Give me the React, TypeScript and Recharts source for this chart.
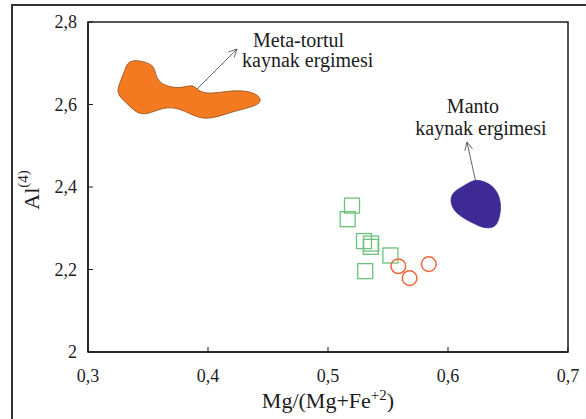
import { ScatterChart, Scatter, XAxis, YAxis, ReferenceArea, ReferenceLine, ReferenceDot, Label } from 'recharts';

// biotite samples (squares) and hornblende-ish samples (circles)
const squares = [
  { x: 0.52, y: 2.355 },
  { x: 0.5164, y: 2.322 },
  { x: 0.53, y: 2.269 },
  { x: 0.536, y: 2.263 },
  { x: 0.5356, y: 2.255 },
  { x: 0.552, y: 2.234 },
  { x: 0.531, y: 2.196 },
];

const circles = [
  { x: 0.5586, y: 2.208 },
  { x: 0.568, y: 2.179 },
  { x: 0.584, y: 2.213 },
];

// outline of the meta-sedimentary source melt field
const metaField = [
  { x: 0.3308, y: 2.6836 }, { x: 0.3333, y: 2.7055 }, { x: 0.3425, y: 2.7079 },
  { x: 0.355, y: 2.6958 }, { x: 0.3558, y: 2.6764 }, { x: 0.36, y: 2.6473 },
  { x: 0.3767, y: 2.6376 }, { x: 0.3875, y: 2.6497 }, { x: 0.3908, y: 2.6352 },
  { x: 0.3992, y: 2.6255 }, { x: 0.4117, y: 2.6303 }, { x: 0.4267, y: 2.6352 },
  { x: 0.44, y: 2.6279 }, { x: 0.445, y: 2.6109 }, { x: 0.4408, y: 2.5964 },
  { x: 0.4217, y: 2.5842 }, { x: 0.4033, y: 2.5648 }, { x: 0.3908, y: 2.5673 },
  { x: 0.3767, y: 2.5915 }, { x: 0.3625, y: 2.5939 }, { x: 0.3492, y: 2.5745 },
  { x: 0.34, y: 2.5794 }, { x: 0.3325, y: 2.6036 }, { x: 0.3233, y: 2.6255 },
  { x: 0.3267, y: 2.6545 },
];

// outline of the mantle source melt field
const mantleField = [
  { x: 0.625, y: 2.4194 }, { x: 0.6375, y: 2.4048 }, { x: 0.6433, y: 2.3758 },
  { x: 0.6442, y: 2.3442 }, { x: 0.6417, y: 2.3127 }, { x: 0.6375, y: 2.3006 },
  { x: 0.6292, y: 2.3006 }, { x: 0.6208, y: 2.3127 }, { x: 0.6125, y: 2.3248 },
  { x: 0.6042, y: 2.3442 }, { x: 0.6017, y: 2.3685 }, { x: 0.6042, y: 2.3879 },
  { x: 0.6117, y: 2.4 }, { x: 0.6183, y: 2.4121 },
];

const xTicks = [0.3, 0.4, 0.5, 0.6, 0.7];
const yTicks = [2, 2.2, 2.4, 2.6, 2.8];

const metaArrow = [{ x: 0.3833, y: 2.6158 }, { x: 0.4242, y: 2.7345 }];
const mantleArrow = [{ x: 0.625, y: 2.3879 }, { x: 0.6158, y: 2.5091 }];

const FONT = '"Liberation Serif", "Times New Roman", serif';
const INK = '#1c1c1c';

const fmt = (v: number) => String(+v.toFixed(1)).replace('.', ',');

const Square = (p: any) => (
  <rect x={p.cx - 7.5} y={p.cy - 7.5} width={15} height={15} fill="none" stroke="#6cc27c" strokeWidth={1.3} />
);

const Ring = (p: any) => (
  <circle cx={p.cx} cy={p.cy} r={7.3} fill="none" stroke="#ee6638" strokeWidth={1.5} />
);

const Hidden = () => <g />;

const Arrow = (p: any) => {
  const { x1, y1, x2, y2 } = p;
  const a = Math.atan2(y2 - y1, x2 - x1);
  const len = 9;
  const spread = 0.45;
  const ax = x2 - len * Math.cos(a - spread);
  const ay = y2 - len * Math.sin(a - spread);
  const bx = x2 - len * Math.cos(a + spread);
  const by = y2 - len * Math.sin(a + spread);
  return (
    <g stroke="#555" strokeWidth={0.9} fill="none">
      <line x1={x1} y1={y1} x2={x2} y2={y2} />
      <polyline points={`${ax},${ay} ${x2},${y2} ${bx},${by}`} />
    </g>
  );
};

const metaText = (p: any) => (
  <text x={p.cx} y={p.cy} fontFamily={FONT} fontSize={20} fill={INK}>
    <tspan x={p.cx}>Meta-tortul</tspan>
    <tspan x={p.cx - 11} dy={20}>kaynak ergimesi</tspan>
  </text>
);

const mantleText = (p: any) => (
  <text x={p.cx} y={p.cy} fontFamily={FONT} fontSize={20} fill={INK} textAnchor="middle">
    <tspan x={p.cx}>Manto</tspan>
    <tspan x={p.cx + 8} dy={22}>kaynak ergimesi</tspan>
  </text>
);

const XTitle = (p: any) => {
  const vb = p.viewBox;
  const cx = vb.x + vb.width / 2;
  return (
    <text x={cx} y={408} textAnchor="middle" fontFamily={FONT} fontSize={22} fill={INK}>
      Mg/(Mg+Fe
      <tspan dy={-8} fontSize={15}>+2</tspan>
      <tspan dy={8}>)</tspan>
    </text>
  );
};

const YTitle = () => (
  <text x={31} y={190} transform="rotate(-90, 31, 190)" textAnchor="middle" dominantBaseline="central" fontFamily={FONT} fontSize={22} fill={INK}>
    Al
    <tspan dy={-8} fontSize={15}>(4)</tspan>
  </text>
);

export default function App() {
  return (
    <div style={{ position: 'absolute', left: 0, top: 0, width: 586, height: 419, overflow: 'hidden', background: '#fff' }}>
      <div style={{ position: 'absolute', left: 11, top: 4, width: 620, height: 480, borderTop: '2px solid #333', borderLeft: '2px solid #333' }} />
      <div style={{ position: 'absolute', left: 0, top: 0 }}>
        <ScatterChart width={586} height={419} margin={{ top: 22, right: 18, bottom: 7, left: 28 }}>
          <XAxis
            type="number"
            dataKey="x"
            domain={[0.3, 0.7]}
            ticks={xTicks}
            tickFormatter={fmt}
            height={60}
            tickSize={-5}
            tickMargin={22}
            axisLine={{ stroke: INK, strokeWidth: 1.5 }}
            tickLine={{ stroke: INK }}
            tick={{ fill: INK, fontFamily: FONT, fontSize: 18 }}
            allowDataOverflow
          >
            <Label content={XTitle} />
          </XAxis>
          <YAxis
            type="number"
            dataKey="y"
            domain={[2, 2.8]}
            ticks={yTicks}
            tickFormatter={fmt}
            width={60}
            tickSize={-5}
            tickMargin={16}
            axisLine={{ stroke: INK, strokeWidth: 1.5 }}
            tickLine={{ stroke: INK }}
            tick={{ fill: INK, fontFamily: FONT, fontSize: 18 }}
            allowDataOverflow
          >
            <Label content={YTitle} />
          </YAxis>
          <ReferenceArea x1={0.3} x2={0.7} y1={2} y2={2.8} fill="none" stroke={INK} strokeWidth={1.5} fillOpacity={0} />
          <Scatter
            data={metaField}
            shape={Hidden}
            line={{ fill: '#f47a22', stroke: '#8c4a1c', strokeWidth: 0.8 }}
            lineType="joint"
            lineJointType="basisClosed"
            isAnimationActive={false}
          />
          <Scatter
            data={mantleField}
            shape={Hidden}
            line={{ fill: '#3d2a94', stroke: '#3d2a94', strokeWidth: 0.8 }}
            lineType="joint"
            lineJointType="basisClosed"
            isAnimationActive={false}
          />
          <ReferenceLine segment={metaArrow} shape={Arrow} />
          <ReferenceLine segment={mantleArrow} shape={Arrow} />
          <ReferenceDot x={0.4375} y={2.7394} r={0} shape={metaText} />
          <ReferenceDot x={0.6208} y={2.5794} r={0} shape={mantleText} />
          <Scatter data={squares} shape={Square} isAnimationActive={false} />
          <Scatter data={circles} shape={Ring} isAnimationActive={false} />
        </ScatterChart>
      </div>
    </div>
  );
}
